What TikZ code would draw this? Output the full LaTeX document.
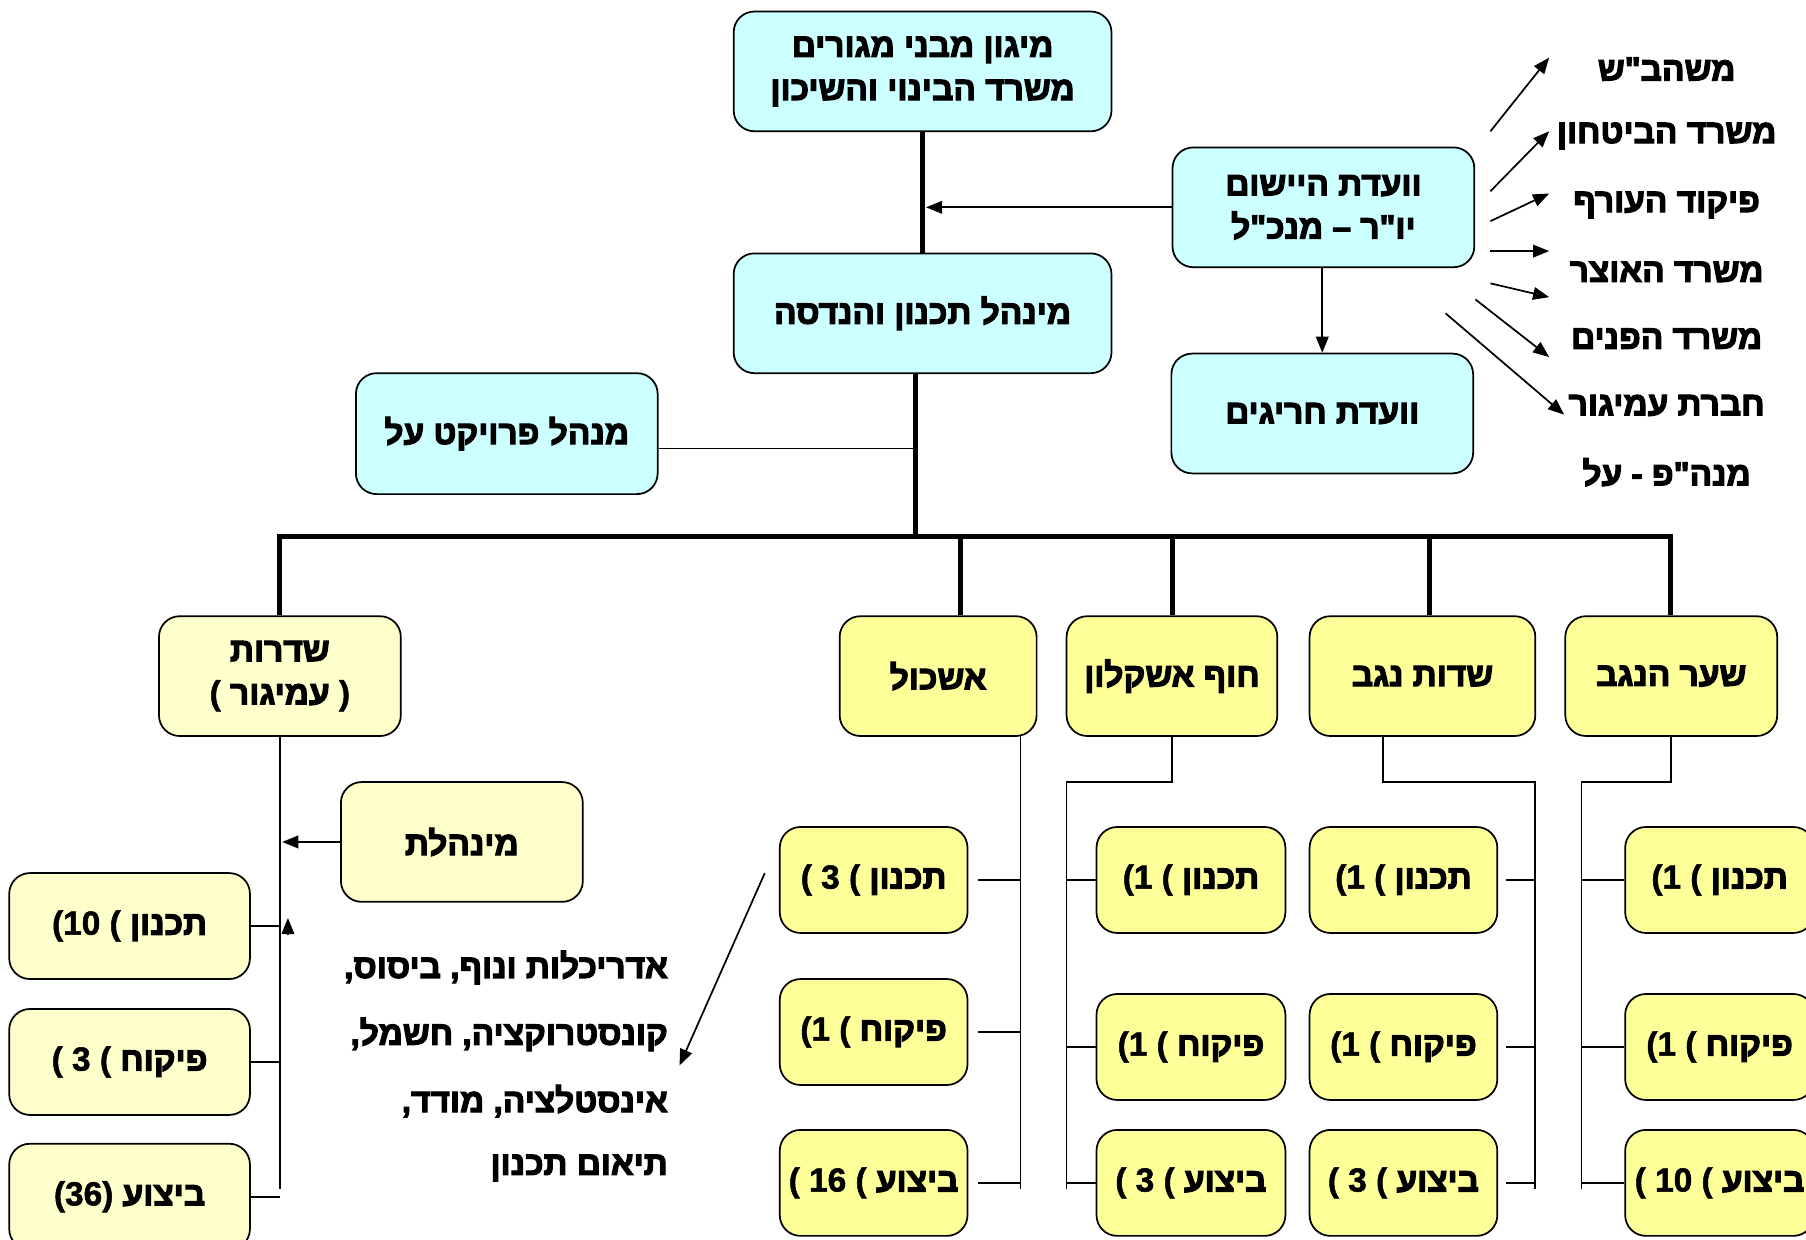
\documentclass[tikz,border=0pt]{standalone}
\usepackage{fontspec}
\newfontfamily\hebfont[Script=Hebrew, FakeBold=3.5]{Liberation Sans Bold}
\newfontfamily\latfont[FakeBold=1.5]{Liberation Sans Bold}
\TeXXeTstate=1
\usetikzlibrary{arrows.meta}
\newcommand\heb[1]{{\hebfont\beginR#1\endR}}
\definecolor{cyanbox}{HTML}{CCFFFF}
\definecolor{yelbox}{HTML}{FFFF99}
\definecolor{palebox}{HTML}{FFFFCC}
\begin{document}
\begin{tikzpicture}[x=1pt,y=-1pt,
  every node/.style={font=\latfont\fontsize{29}{37.5}\selectfont, inner sep=0pt},
  boxbase/.style={draw, line width=1.5pt, rounded corners=18pt, align=center},
  cbox/.style={boxbase, fill=cyanbox},
  ybox/.style={boxbase, fill=yelbox},
  pbox/.style={boxbase, fill=palebox},
  heavy/.style={line width=4.5pt},
  thinln/.style={line width=1.5pt},
  arr/.style={line width=1.5pt, -{Triangle[length=14pt,width=11pt]}}
]
\useasboundingbox (0,0) rectangle (1568,1076);
\fill[white] (0,0) rectangle (1568,1076);

% ---- top level
\node[cbox, minimum width=328, minimum height=104] (top) at (801,62) {\heb{מיגון מבני מגורים}\\\heb{משרד הבינוי והשיכון}};
\node[cbox, minimum width=328, minimum height=104] (mid) at (801,272) {\heb{מינהל תכנון והנדסה}};
\node[cbox, minimum width=262, minimum height=104] (vaad) at (1149,180) {\heb{וועדת היישום}\\\heb{יו"ר – מנכ"ל}};
\node[cbox, minimum width=262, minimum height=104] (harig) at (1148,359) {\heb{וועדת חריגים}};
\node[cbox, minimum width=262, minimum height=105] (pm) at (440,376.5) {\heb{מנהל פרויקט על}};

% ---- right list
\node (r1) at (1447,60) {\heb{משהב"ש}};
\node (r2) at (1447,118) {\heb{משרד הביטחון}};
\node (r3) at (1447,178) {\heb{פיקוד העורף}};
\node (r4) at (1447,236) {\heb{משרד האוצר}};
\node (r5) at (1447,294) {\heb{משרד הפנים}};
\node (r6) at (1447,352) {\heb{חברת עמיגור}};
\node (r7) at (1447,410) {\heb{מנה"פ - על}};

\coordinate (a1s) at (1294,114); \coordinate (a1e) at (1345,50);
\coordinate (a2s) at (1294,166); \coordinate (a2e) at (1345,114);
\coordinate (a3s) at (1294,192); \coordinate (a3e) at (1345,168);
\coordinate (a4s) at (1294,218); \coordinate (a4e) at (1345,218);
\coordinate (a5s) at (1294,246); \coordinate (a5e) at (1345,258);
\coordinate (a6s) at (1281,260); \coordinate (a6e) at (1345,310);
\coordinate (a7s) at (1255,272); \coordinate (a7e) at (1358,360);
\foreach \i in {1,...,7} {\draw[arr] (a\i s) -- (a\i e);}

% ---- level 2
\node[pbox, minimum width=210, minimum height=104] (sderot) at (243,587) {\heb{שדרות}\\( \heb{עמיגור} )};
\node[ybox, minimum width=171, minimum height=104] (eshkol) at (814.5,587) {\heb{אשכול}};
\node[ybox, minimum width=183, minimum height=104] (hof) at (1017.5,587) {\heb{חוף אשקלון}};
\node[ybox, minimum width=196, minimum height=104] (sdot) at (1235,587) {\heb{שדות נגב}};
\node[ybox, minimum width=184, minimum height=104] (shaar) at (1451,587) {\heb{שער הנגב}};
\node[pbox, minimum width=210, minimum height=104] (minh) at (401,731) {\heb{מינהלת}};

% ---- Sderot subs
\node[pbox, minimum width=209, minimum height=92] (s1) at (112.5,804) {(10 ( \heb{תכנון}};
\node[pbox, minimum width=209, minimum height=92] (s2) at (112.5,922) {( 3 ( \heb{פיקוח}};
\node[pbox, minimum width=209, minimum height=92] (s3) at (112.5,1039) {(36) \heb{ביצוע}};
% ---- Eshkol subs
\node[ybox, minimum width=163, minimum height=92] (e1) at (758.5,764) {( 3 ( \heb{תכנון}};
\node[ybox, minimum width=163, minimum height=92] (e2) at (758.5,896) {(1 ( \heb{פיקוח}};
\node[ybox, minimum width=163, minimum height=92] (e3) at (758.5,1027) {( 16 ( \heb{ביצוע}};
% ---- Hof subs
\node[ybox, minimum width=164, minimum height=92] (h1) at (1034,764) {(1 ( \heb{תכנון}};
\node[ybox, minimum width=164, minimum height=92] (h2) at (1034,909) {(1 ( \heb{פיקוח}};
\node[ybox, minimum width=164, minimum height=92] (h3) at (1034,1027) {( 3 ( \heb{ביצוע}};
% ---- Sdot subs
\node[ybox, minimum width=163, minimum height=92] (d1) at (1218.5,764) {(1 ( \heb{תכנון}};
\node[ybox, minimum width=163, minimum height=92] (d2) at (1218.5,909) {(1 ( \heb{פיקוח}};
\node[ybox, minimum width=163, minimum height=92] (d3) at (1218.5,1027) {( 3 ( \heb{ביצוע}};
% ---- Shaar subs
\node[ybox, minimum width=164, minimum height=92] (n1) at (1493,764) {(1 ( \heb{תכנון}};
\node[ybox, minimum width=164, minimum height=92] (n2) at (1493,909) {(1 ( \heb{פיקוח}};
\node[ybox, minimum width=164, minimum height=92] (n3) at (1493,1027) {( 10 ( \heb{ביצוע}};

% ---- text block
\node[anchor=east] (t1) at (580,840) {\heb{אדריכלות ונוף\kern0pt, ביסוס\kern0pt,}};
\node[anchor=east] (t2) at (580,898) {\heb{קונסטרוקציה\kern0pt, חשמל\kern0pt,}};
\node[anchor=east] (t3) at (580,956) {\heb{אינסטלציה\kern0pt, מודד\kern0pt,}};
\node[anchor=east] (t4) at (580,1014) {\heb{תיאום תכנון}};
\coordinate (cs) at (664,758); \coordinate (ce) at (590,925);
\draw[arr] (cs) -- (ce);

% ---- upper connectors
\draw[heavy] (top.south) -- (mid.north);
\draw[arr] (vaad.west) -- ([xshift=3pt]vaad.west -| top.south);
\draw[arr] (vaad.south -| harig.north) -- (harig.north);
\coordinate (busm) at (795,466);
\draw[heavy] (busm |- mid.south) -- (busm);
\coordinate (pmc) at ([yshift=-13pt]pm.east);
\draw[thinln] (pmc) -- (pmc -| busm);

% ---- bus and drops
\coordinate (bL) at (243,466);
\coordinate (bR) at (1450,466);
\coordinate (bE) at (834,466);
\coordinate (bH) at (1018,466);
\coordinate (bD) at (1241,466);
\draw[heavy, line cap=rect] (bL) -- (bR);
\draw[heavy] (bL) -- (bL |- sderot.north);
\draw[heavy] (bE) -- (bE |- eshkol.north);
\draw[heavy] (bH) -- (bH |- hof.north);
\draw[heavy] (bD) -- (bD |- sdot.north);
\draw[heavy] (bR) -- (bR |- shaar.north);

% ---- Sderot column
\coordinate (sB) at (243,1032);
\draw[thinln] (sderot.south) -- (sB);
\draw[thinln] (s1.east) -- (s1.east -| sB);
\draw[thinln] (s2.east) -- (s2.east -| sB);
\draw[thinln] (s3.east) -- (s3.east -| sB);
\draw[arr] (minh.west) -- ([xshift=2pt]minh.west -| sB);
\coordinate (ua1) at (250,812); \coordinate (ua2) at (250,797);
\draw[arr] (ua1) -- (ua2);

% ---- Eshkol column
\coordinate (eT) at (886,639); \coordinate (eB) at (886,1032);
\draw[thinln] (eT) -- (eB);
\draw[thinln] ([xshift=8pt]e1.east) -- (e1.east -| eB);
\draw[thinln] ([xshift=8pt]e2.east) -- (e2.east -| eB);
\draw[thinln] ([xshift=8pt]e3.east) -- (e3.east -| eB);

% ---- Hof column
\coordinate (hK) at (926,679); \coordinate (hB) at (926,1032);
\draw[thinln] (hof.south) -- (hof.south |- hK) -- (hK) -- (hB);
\draw[thinln] (h1.west) -- (h1.west -| hB);
\draw[thinln] (h2.west) -- (h2.west -| hB);
\draw[thinln] (h3.west) -- (h3.west -| hB);

% ---- Sdot column
\coordinate (dT) at (1201,639); \coordinate (dK) at (1333,679); \coordinate (dB) at (1333,1032);
\draw[thinln] (dT) -- (dT |- dK) -- (dK) -- (dB);
\draw[thinln] ([xshift=7pt]d1.east) -- (d1.east -| dB);
\draw[thinln] ([xshift=7pt]d2.east) -- (d2.east -| dB);
\draw[thinln] ([xshift=7pt]d3.east) -- (d3.east -| dB);

% ---- Shaar column
\coordinate (nK) at (1373,679); \coordinate (nB) at (1373,1032);
\draw[thinln] (shaar.south) -- (shaar.south |- nK) -- (nK) -- (nB);
\draw[thinln] (n1.west) -- (n1.west -| nB);
\draw[thinln] (n2.west) -- (n2.west -| nB);
\draw[thinln] (n3.west) -- (n3.west -| nB);
\end{tikzpicture}
\end{document}
